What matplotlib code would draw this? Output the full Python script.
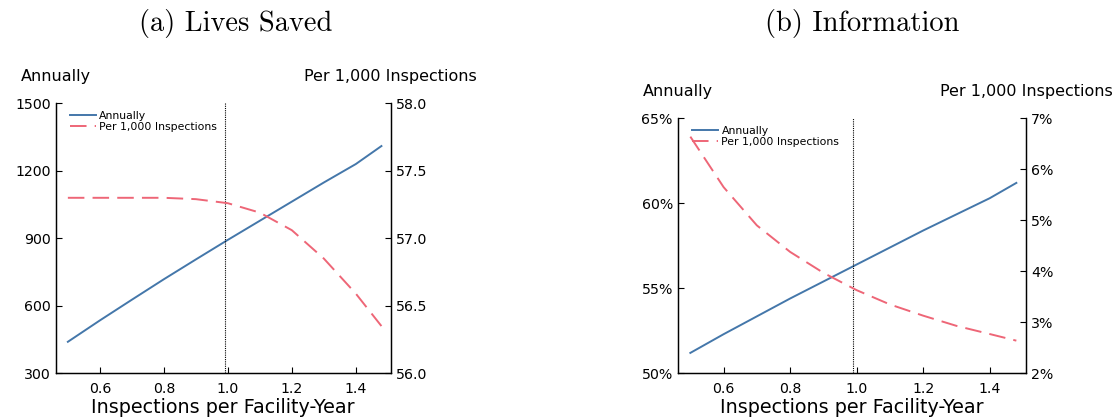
import matplotlib
matplotlib.use("Agg")
import matplotlib.pyplot as plt
from matplotlib.ticker import FuncFormatter

# ---- data ----
x = [0.5, 0.6, 0.7, 0.8, 0.9, 1.0, 1.1, 1.2, 1.3, 1.4, 1.48]
lives_annual = [440, 535, 627, 718, 806, 893, 978, 1063, 1148, 1230, 1310]
lives_per1000 = [57.30, 57.30, 57.30, 57.30, 57.29, 57.26, 57.19, 57.06, 56.85, 56.59, 56.35]
info_annual = [51.2, 52.3, 53.35, 54.4, 55.4, 56.4, 57.4, 58.4, 59.35, 60.3, 61.2]
info_per1000 = [6.64, 5.65, 4.90, 4.38, 3.97, 3.63, 3.35, 3.13, 2.93, 2.77, 2.64]
vline_x = 0.99
xticks = [0.6, 0.8, 1.0, 1.2, 1.4]
titles = ["(a) Lives Saved", "(b) Information"]
left_label = "Annually"
right_label = "Per 1,000 Inspections"
xlabel = "Inspections per Facility-Year"

BLUE = "#4477AA"
RED = "#EE6677"

fig = plt.figure(figsize=(11.14, 4.18), dpi=100)
W, H = 1114, 418

def px(l, t, r, b):
    return [l / W, 1 - b / H, (r - l) / W, (b - t) / H]

def style(ax):
    ax.tick_params(direction="in", length=4, width=0.8, labelsize=10.2)
    for s in ["left", "bottom", "right"]:
        ax.spines[s].set_linewidth(0.9)
    ax.spines["top"].set_visible(False)

panels = [
    dict(box=(55.7, 103.3, 390.7, 373.3), ann=lives_annual, per=lives_per1000,
         ylim=(300, 1500), yt=[300, 600, 900, 1200, 1500],
         ylim2=(56.0, 58.0), yt2=[56.0, 56.5, 57.0, 57.5, 58.0],
         fmt=lambda v, p: f"{v:.0f}", fmt2=lambda v, p: f"{v:.1f}", title_x=236),
    dict(box=(677.7, 118.3, 1026.0, 373.3), ann=info_annual, per=info_per1000,
         ylim=(50, 65), yt=[50, 55, 60, 65],
         ylim2=(2, 7), yt2=[2, 3, 4, 5, 6, 7],
         fmt=lambda v, p: f"{v:.0f}%", fmt2=lambda v, p: f"{v:.0f}%", title_x=862),
]

for i, P in enumerate(panels):
    l, t, r, b = P["box"]
    ax = fig.add_axes(px(l, t, r, b))
    ax2 = ax.twinx()
    l1, = ax.plot(x, P["ann"], color=BLUE, lw=1.4, label=left_label)
    l2, = ax2.plot(x, P["per"], color=RED, lw=1.4, ls=(0, (8.5, 4.2)), label=right_label)
    ax.axvline(vline_x, color="black", lw=0.8, ls=(0, (1, 1)))
    ax.set_xlim(0.462, 1.509)
    ax.set_ylim(*P["ylim"])
    ax.set_yticks(P["yt"])
    ax2.set_ylim(*P["ylim2"])
    ax2.set_yticks(P["yt2"])
    ax.set_xticks(xticks)
    ax.xaxis.set_major_formatter(FuncFormatter(lambda v, p: f"{v:.1f}"))
    ax.yaxis.set_major_formatter(FuncFormatter(P["fmt"]))
    ax2.yaxis.set_major_formatter(FuncFormatter(P["fmt2"]))
    style(ax)
    style(ax2)
    ax.tick_params(axis="x", pad=6)
    ax.set_xlabel(xlabel, fontsize=13.8, labelpad=2)
    ax.legend([l1, l2], [left_label, right_label], loc="upper left", frameon=False,
              fontsize=7.8, handlelength=2.4, handletextpad=0.3, labelspacing=0.1,
              borderaxespad=0.3, bbox_to_anchor=(0.02, 1.0))
    yh = t - 27
    fig.text(l / W, 1 - yh / H, left_label, ha="center", va="center", fontsize=11.5)
    fig.text(r / W, 1 - yh / H, right_label, ha="center", va="center", fontsize=11.5)
    fig.text(P["title_x"] / W, 1 - 24 / H, titles[i], ha="center", va="center",
             fontsize=20.5, family="cmr10")

fig.savefig("out.png", dpi=100)
